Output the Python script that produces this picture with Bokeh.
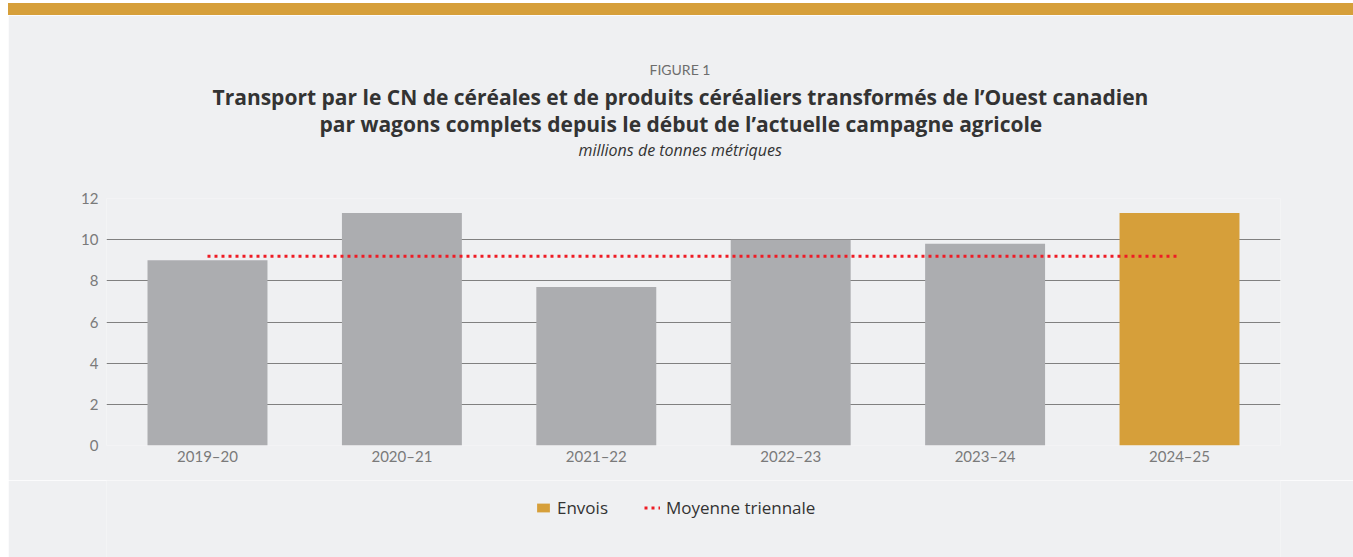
from bokeh.plotting import figure
from bokeh.models import (ColumnDataSource, FactorRange, Range1d, FixedTicker, Title,
                          Legend, LegendItem, Div)
from bokeh.layouts import column
from bokeh.embed import file_html
from bokeh.resources import INLINE

# ---- data ----
campagnes = ["2019–20", "2020–21", "2021–22", "2022–23", "2023–24", "2024–25"]
envois = [9.0, 11.3, 7.7, 10.0, 9.8, 11.3]
moyenne_triennale = [9.2, 9.2, 9.2, 9.2, 9.2, 9.2]
y_ticks = [0, 2, 4, 6, 8, 10, 12]

# ---- styles ----
GOLD = "#d69f3a"
GRAY = "#acadb0"
BG = "#eff0f2"
RED = "#ee1c25"
GRID = "#808080"
TICK_TXT = "#7a7a7a"
DARK = "#333333"
FONT = "Lato"
TFONT = "Open Sans"

bar_colors = [GRAY] * (len(campagnes) - 1) + [GOLD]

src = ColumnDataSource(dict(x=campagnes, top=envois, color=bar_colors))
avg_src = ColumnDataSource(dict(x=campagnes, y=moyenne_triennale))

x_range = FactorRange(*campagnes, range_padding=0.0065)
y_range = Range1d(0, 12)

p = figure(x_range=x_range, y_range=y_range,
           width=1345, height=465, output_backend="svg", toolbar_location=None,
           min_border_left=98, min_border_right=73, min_border_top=183, min_border_bottom=35,
           background_fill_color=BG, border_fill_color=BG, outline_line_color=None,
           margin=(0, 0, 0, 8))

bars = p.vbar(x="x", top="top", width=0.617, source=src, fill_color="color", line_color=None)
avg = p.line(x="x", y="y", source=avg_src, line_color=RED, line_width=3, line_dash="3 4")

# axes
p.yaxis.ticker = FixedTicker(ticks=y_ticks)
p.yaxis.axis_line_color = None
p.yaxis.major_tick_line_color = None
p.yaxis.minor_tick_line_color = None
p.yaxis.major_label_text_color = TICK_TXT
p.yaxis.major_label_text_font = FONT
p.yaxis.major_label_text_font_size = "15px"
p.yaxis.major_label_standoff = 2

p.xaxis.axis_line_color = None
p.xaxis.major_tick_line_color = None
p.xaxis.minor_tick_line_color = None
p.xaxis.major_label_text_color = TICK_TXT
p.xaxis.major_label_text_font = FONT
p.xaxis.major_label_text_font_size = "15px"
p.xaxis.major_label_standoff = -5

p.xgrid.grid_line_color = None
p.ygrid.grid_line_color = GRID
p.ygrid.grid_line_width = 1
p.ygrid.ticker = FixedTicker(ticks=y_ticks)

# titles (added from nearest the plot outward); first one is a blank spacer
p.add_layout(Title(text=" ", text_font=TFONT, text_font_size="16px", standoff=14), "above")
p.add_layout(Title(text="millions de tonnes métriques", align="left", offset=472,
                   text_font=TFONT, text_font_size="16px", text_font_style="italic",
                   text_color=DARK, standoff=0), "above")
p.add_layout(Title(text="par wagons complets depuis le début de l’actuelle campagne agricole",
                   align="left", offset=213, text_font=TFONT, text_font_size="21px",
                   text_font_style="bold", text_color=DARK, standoff=-3), "above")
p.add_layout(Title(text="Transport par le CN de céréales et de produits céréaliers transformés de l’Ouest canadien",
                   align="left", offset=106, text_font=TFONT, text_font_size="21px",
                   text_font_style="bold", text_color=DARK, standoff=-3), "above")
p.add_layout(Title(text="FIGURE 1", align="left", offset=543, text_font=FONT,
                   text_font_size="14px", text_font_style="normal", text_color="#6d6d6d",
                   standoff=9), "above")

# legend lives in its own strip below the chart
lf = figure(x_range=x_range, y_range=y_range, width=1345, height=77,
            output_backend="svg", toolbar_location=None,
            x_axis_location=None, y_axis_location=None,
            min_border=0, min_border_left=0, min_border_right=0,
            min_border_top=0, min_border_bottom=0,
            background_fill_color=BG, border_fill_color=BG, outline_line_color=None,
            margin=(0, 0, 0, 8))
lf.grid.grid_line_color = None
lbar = lf.vbar(x="x", top="top", width=0.617, source=src, fill_color="color",
               line_color=None, visible=False)
lline = lf.line(x="x", y="y", source=avg_src, line_color=RED, line_width=3,
                line_dash="3 4", visible=False)

legend = Legend(items=[LegendItem(label="Envois", renderers=[lbar], index=5),
                       LegendItem(label="Moyenne triennale", renderers=[lline])],
                orientation="horizontal", location=(429, 38),
                background_fill_alpha=0, border_line_color=None,
                label_text_font=TFONT, label_text_font_size="17px", label_text_color=DARK,
                glyph_width=16, glyph_height=11, spacing=36, label_standoff=6,
                padding=0, margin=0)
lf.add_layout(legend)

band = Div(text="", width=1345, height=12, margin=(3, 0, 0, 8),
           styles={"background-color": GOLD})

layout = column(band, p, lf, spacing=0)

open("out.html", "w").write(file_html(layout, INLINE))
